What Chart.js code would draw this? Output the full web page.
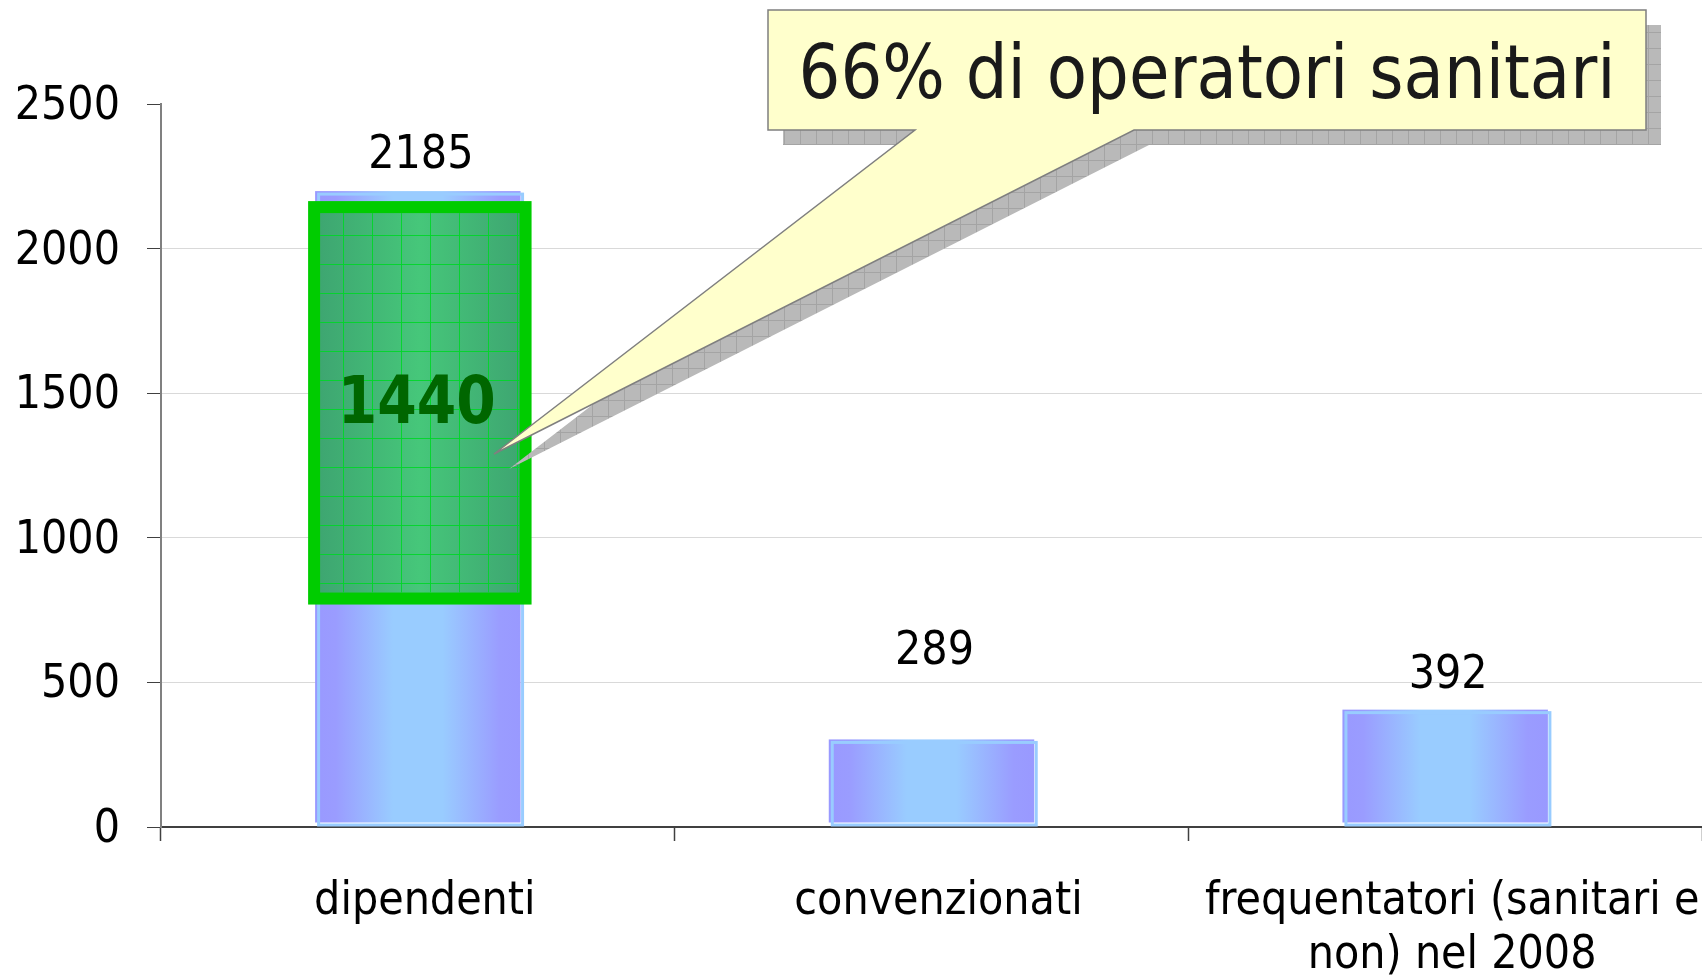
<!DOCTYPE html>
<html>
<head>
<meta charset="utf-8">
<script src="https://cdn.jsdelivr.net/npm/chart.js@4.4.1/dist/chart.umd.min.js"></script>
<style>
  html, body { margin: 0; padding: 0; background: #fff; }
  #wrap { width: 1702px; height: 979px; }
</style>
</head>
<body>
<div id="wrap"><canvas id="staffChart" width="1702" height="979"></canvas></div>
<script>
// Dati
const categories = ['dipendenti', 'convenzionati', ['frequentatori (sanitari e', 'non) nel 2008']];
const staffCounts = [2185, 289, 392];
const healthWorkers = 1440;          // sanitari tra i dipendenti
const calloutText = '66% di operatori sanitari';
const yMin = 0, yMax = 2500, yStep = 500;

const FONT = "'DejaVu Sans Condensed', 'DejaVu Sans', sans-serif";
const labelLift = [39, 91, 38];      // spostamento etichette valore (px)

// testo adattato ad una larghezza data
function fitText(ctx, text, cx, y, font, width, baseline) {
  ctx.save();
  ctx.font = font;
  const w = ctx.measureText(text).width;
  ctx.translate(cx, y);
  ctx.scale(width / w, 1);
  ctx.textAlign = 'center';
  ctx.textBaseline = baseline || 'alphabetic';
  ctx.fillText(text, 0, 0);
  ctx.restore();
}

// barre con sfumatura + bordo spostato
const barLook = {
  id: 'barLook',
  afterDatasetsDraw(chart) {
    const ctx = chart.ctx;
    const meta = chart.getDatasetMeta(0);
    ctx.save();
    meta.data.forEach((bar, i) => {
      const left = bar.x - bar.width / 2, right = bar.x + bar.width / 2;
      const top = bar.y, base = bar.base;
      const g = ctx.createLinearGradient(left, 0, right, 0);
      g.addColorStop(0, '#9999ff');
      g.addColorStop(0.1, '#9a9cff');
      g.addColorStop(0.38, '#99ccff');
      g.addColorStop(0.62, '#99ccff');
      g.addColorStop(0.9, '#9a9cff');
      g.addColorStop(1, '#9999ff');
      ctx.fillStyle = g;
      ctx.fillRect(left, top - 4, right - left, base - top);
      ctx.strokeStyle = '#99ccff';
      ctx.lineWidth = 3;
      ctx.strokeRect(left + 3.5, top - 1, right - left - 1.5, base - top - 0.5);

      ctx.fillStyle = '#000';
      ctx.font = '46px ' + FONT;
      ctx.textAlign = 'center';
      ctx.textBaseline = 'middle';
      ctx.fillText(String(staffCounts[i]), bar.x + 3, top - labelLift[i]);
    });
    ctx.restore();
  }
};

// riquadro verde + fumetto
const annotate = {
  id: 'annotate',
  afterDraw(chart) {
    const ctx = chart.ctx;
    const yS = chart.scales.y;
    const bar0 = chart.getDatasetMeta(0).data[0];

    // riquadro verde sui sanitari
    const bT = yS.getPixelForValue(staffCounts[0]) + 6;
    const bB = yS.getPixelForValue(staffCounts[0] - healthWorkers) - 7;
    const bL = bar0.x - bar0.width / 2 - 7;
    const bR = bar0.x + bar0.width / 2 + 11;
    const bw = 12;
    ctx.save();
    ctx.fillStyle = '#00cc00';
    ctx.fillRect(bL, bT, bR - bL, bB - bT);
    const iL = bL + bw, iT = bT + bw, iR = bR - bw, iB = bB - bw;
    const gg = ctx.createLinearGradient(iL, 0, iR, 0);
    gg.addColorStop(0, '#3ea671');
    gg.addColorStop(0.5, '#46c77a');
    gg.addColorStop(1, '#3ea671');
    ctx.fillStyle = gg;
    ctx.fillRect(iL, iT, iR - iL, iB - iT);
    ctx.strokeStyle = 'rgba(0,214,40,0.9)';
    ctx.lineWidth = 1;
    ctx.beginPath();
    for (let x = iL + 23; x < iR; x += 29) { ctx.moveTo(Math.round(x) + 0.5, iT); ctx.lineTo(Math.round(x) + 0.5, iB); }
    for (let y = iT + 22; y < iB; y += 29) { ctx.moveTo(iL, Math.round(y) + 0.5); ctx.lineTo(iR, Math.round(y) + 0.5); }
    ctx.stroke();
    ctx.fillStyle = '#006600';
    fitText(ctx, String(healthWorkers), (bL + bR) / 2 - 3, (bT + bB) / 2 + 3, 'bold 66px ' + FONT, 158, 'middle');
    ctx.restore();

    // fumetto
    const L = 768, T = 10, R = 1646, B = 130;
    const pts = [[L, T], [R, T], [R, B], [1134, B], [494, 454], [915, B], [L, B]];
    const path = (dx, dy) => {
      ctx.beginPath();
      pts.forEach((p, k) => k ? ctx.lineTo(p[0] + dx, p[1] + dy) : ctx.moveTo(p[0] + dx, p[1] + dy));
      ctx.closePath();
    };
    const pc = document.createElement('canvas');
    pc.width = 16; pc.height = 16;
    const p = pc.getContext('2d');
    p.fillStyle = '#b9b9b9';
    p.fillRect(0, 0, 16, 16);
    p.fillStyle = '#a4a4a4';
    p.fillRect(0, 0, 16, 1);
    p.fillRect(0, 0, 1, 16);
    ctx.save();
    ctx.fillStyle = ctx.createPattern(pc, 'repeat');
    path(15, 15);
    ctx.fill();
    ctx.fillStyle = '#ffffcc';
    ctx.strokeStyle = '#7f7f7f';
    ctx.lineWidth = 1.5;
    path(0, 0);
    ctx.fill();
    ctx.stroke();
    ctx.fillStyle = '#1a1a1a';
    fitText(ctx, calloutText, (L + R) / 2, 98, '74px ' + FONT, 817);
    ctx.restore();
  }
};

const staffChart = new Chart(document.getElementById('staffChart').getContext('2d'), {
  type: 'bar',
  data: {
    labels: categories,
    datasets: [{
      data: staffCounts,
      backgroundColor: 'rgba(0,0,0,0)',
      borderWidth: 0,
      barPercentage: 0.4,
      categoryPercentage: 1
    }]
  },
  options: {
    responsive: false,
    animation: false,
    devicePixelRatio: 1,
    layout: { padding: { top: 104, right: 0, bottom: 0, left: 0 } },
    plugins: { legend: { display: false }, tooltip: { enabled: false } },
    scales: {
      x: {
        offset: true,
        grid: { display: true, offset: true, drawOnChartArea: false, tickLength: 14, tickColor: '#404040', tickWidth: 1.5 },
        border: { color: '#404040', width: 2 },
        ticks: { color: '#000', font: { family: FONT, size: 46, lineHeight: 1.17 }, padding: 34, labelOffset: 7, maxRotation: 0, minRotation: 0, autoSkip: false },
        afterFit(s) { s.height = 152; s.paddingLeft = 0; s.paddingRight = 0; }
      },
      y: {
        min: yMin,
        max: yMax,
        ticks: { stepSize: yStep, color: '#000', font: { family: FONT, size: 46 }, padding: 27, labelOffset: 3, callback: v => String(v) },
        grid: {
          color: c => (c.tick && (c.tick.value === yMin || c.tick.value === yMax)) ? 'rgba(0,0,0,0)' : '#d9d9d9',
          lineWidth: 1,
          tickLength: 14,
          tickColor: '#404040'
        },
        border: { color: '#808080', width: 2 },
        afterFit(s) { s.width = 161; s.paddingTop = 0; s.paddingBottom = 0; }
      }
    }
  },
  plugins: [barLook, annotate]
});
</script>
</body>
</html>
